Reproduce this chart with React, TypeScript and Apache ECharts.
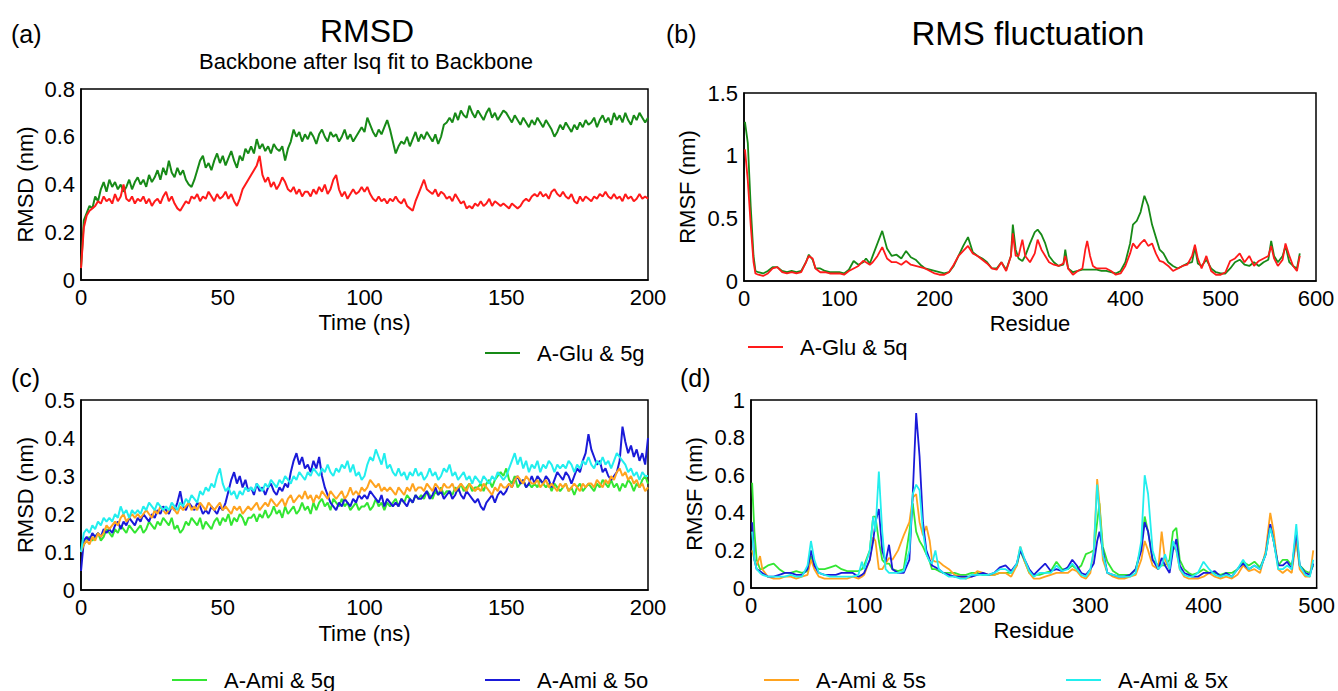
import React, { useEffect, useRef } from "react";
import * as echarts from "echarts";

// ---------- DATA ----------
// RMSD sampled every 1 ns, 0..200 ns
const TIME_NS: number[] = Array.from({ length: 201 }, (_, i) => i);

const rmsdGlu5g: number[] = [
  0.05,0.25,0.28,0.31,0.3,0.35,0.33,0.38,0.41,0.37,
  0.42,0.39,0.41,0.38,0.4,0.37,0.39,0.42,0.38,0.41,
  0.43,0.4,0.42,0.39,0.44,0.41,0.43,0.46,0.42,0.47,
  0.44,0.5,0.45,0.43,0.47,0.44,0.46,0.42,0.4,0.39,
  0.42,0.46,0.5,0.52,0.47,0.49,0.46,0.5,0.53,0.49,
  0.52,0.48,0.51,0.54,0.5,0.47,0.52,0.5,0.55,0.53,
  0.56,0.53,0.59,0.55,0.57,0.54,0.56,0.53,0.57,0.55,
  0.54,0.56,0.5,0.55,0.58,0.63,0.6,0.62,0.58,0.61,
  0.59,0.62,0.6,0.57,0.61,0.63,0.6,0.58,0.62,0.6,
  0.61,0.58,0.6,0.63,0.59,0.61,0.58,0.6,0.62,0.64,
  0.62,0.68,0.65,0.62,0.6,0.63,0.61,0.64,0.67,0.63,
  0.58,0.53,0.56,0.58,0.57,0.6,0.56,0.59,0.62,0.58,
  0.61,0.59,0.62,0.6,0.58,0.61,0.57,0.6,0.65,0.66,
  0.68,0.66,0.7,0.67,0.71,0.69,0.68,0.73,0.7,0.68,
  0.71,0.69,0.67,0.7,0.72,0.68,0.7,0.67,0.69,0.71,
  0.7,0.68,0.66,0.69,0.67,0.65,0.68,0.66,0.64,0.67,
  0.65,0.68,0.66,0.64,0.67,0.65,0.63,0.6,0.62,0.65,
  0.63,0.66,0.64,0.62,0.65,0.63,0.66,0.64,0.67,0.65,
  0.66,0.68,0.64,0.67,0.69,0.66,0.68,0.65,0.7,0.67,
  0.69,0.66,0.7,0.67,0.65,0.69,0.67,0.7,0.68,0.66,
  0.68,
];

const rmsdGlu5q: number[] = [
  0.05,0.22,0.27,0.29,0.3,0.31,0.33,0.32,0.35,0.33,
  0.34,0.32,0.36,0.33,0.35,0.4,0.34,0.33,0.35,0.32,
  0.34,0.33,0.35,0.32,0.34,0.31,0.33,0.34,0.32,0.35,
  0.37,0.33,0.35,0.32,0.3,0.29,0.31,0.33,0.32,0.35,
  0.34,0.36,0.33,0.35,0.34,0.37,0.35,0.33,0.36,0.34,
  0.35,0.37,0.34,0.36,0.33,0.31,0.34,0.38,0.4,0.42,
  0.44,0.46,0.48,0.52,0.44,0.41,0.43,0.39,0.41,0.38,
  0.4,0.43,0.41,0.38,0.37,0.39,0.36,0.38,0.35,0.37,
  0.37,0.35,0.38,0.36,0.39,0.37,0.4,0.36,0.38,0.42,
  0.44,0.38,0.35,0.37,0.34,0.36,0.38,0.36,0.37,0.39,
  0.37,0.39,0.36,0.34,0.33,0.35,0.33,0.34,0.32,0.34,
  0.33,0.35,0.33,0.32,0.34,0.31,0.3,0.29,0.33,0.36,
  0.39,0.42,0.38,0.37,0.36,0.38,0.35,0.37,0.36,0.34,
  0.35,0.33,0.36,0.34,0.32,0.33,0.3,0.31,0.3,0.32,
  0.31,0.33,0.31,0.32,0.34,0.31,0.33,0.32,0.31,0.32,
  0.31,0.3,0.32,0.31,0.3,0.31,0.33,0.34,0.33,0.35,
  0.36,0.35,0.37,0.35,0.36,0.34,0.37,0.38,0.36,0.35,
  0.37,0.35,0.34,0.36,0.33,0.32,0.35,0.33,0.35,0.34,
  0.33,0.35,0.34,0.36,0.35,0.37,0.35,0.34,0.36,0.34,
  0.35,0.33,0.36,0.34,0.35,0.33,0.34,0.36,0.34,0.35,
  0.34,
];

const rmsdAmi5g: number[] = [
  0.1,0.12,0.13,0.14,0.13,0.14,0.15,0.13,0.14,0.16,
  0.15,0.14,0.16,0.15,0.17,0.16,0.15,0.17,0.16,0.15,
  0.16,0.17,0.15,0.16,0.18,0.17,0.16,0.18,0.17,0.19,
  0.18,0.17,0.19,0.16,0.17,0.15,0.16,0.18,0.17,0.19,
  0.18,0.17,0.19,0.16,0.18,0.17,0.16,0.18,0.19,0.17,
  0.19,0.18,0.2,0.17,0.19,0.18,0.2,0.19,0.17,0.19,
  0.19,0.2,0.18,0.2,0.19,0.21,0.19,0.2,0.22,0.2,
  0.21,0.19,0.22,0.2,0.21,0.22,0.2,0.21,0.23,0.21,
  0.22,0.2,0.23,0.21,0.23,0.24,0.22,0.23,0.21,0.24,
  0.23,0.22,0.24,0.22,0.23,0.21,0.22,0.23,0.21,0.22,
  0.22,0.23,0.21,0.22,0.24,0.22,0.23,0.21,0.23,0.22,
  0.23,0.24,0.22,0.24,0.23,0.25,0.24,0.23,0.25,0.24,
  0.25,0.24,0.26,0.25,0.24,0.26,0.25,0.27,0.25,0.26,
  0.26,0.25,0.27,0.26,0.28,0.26,0.27,0.28,0.26,0.27,
  0.27,0.28,0.26,0.28,0.29,0.27,0.29,0.3,0.31,0.3,
  0.32,0.29,0.28,0.3,0.27,0.28,0.29,0.27,0.28,0.27,
  0.28,0.27,0.29,0.28,0.27,0.28,0.26,0.28,0.27,0.26,
  0.27,0.28,0.26,0.27,0.25,0.27,0.28,0.26,0.27,0.28,
  0.27,0.26,0.28,0.27,0.29,0.28,0.27,0.29,0.27,0.28,
  0.26,0.28,0.27,0.29,0.28,0.26,0.28,0.27,0.29,0.3,
  0.28,
];

const rmsdAmi5o: number[] = [
  0.05,0.13,0.14,0.13,0.15,0.14,0.15,0.14,0.16,0.15,
  0.16,0.15,0.17,0.18,0.16,0.18,0.17,0.19,0.18,0.17,
  0.19,0.18,0.2,0.19,0.18,0.2,0.19,0.21,0.2,0.22,
  0.21,0.2,0.22,0.21,0.23,0.26,0.22,0.21,0.23,0.22,
  0.21,0.23,0.22,0.2,0.21,0.2,0.22,0.21,0.2,0.22,
  0.21,0.23,0.26,0.29,0.31,0.28,0.3,0.27,0.29,0.26,
  0.27,0.25,0.28,0.26,0.27,0.25,0.27,0.28,0.26,0.25,
  0.27,0.26,0.28,0.27,0.31,0.34,0.36,0.33,0.35,0.32,
  0.33,0.31,0.34,0.32,0.35,0.3,0.27,0.25,0.23,0.22,
  0.21,0.23,0.22,0.24,0.23,0.22,0.24,0.23,0.25,0.24,
  0.25,0.24,0.26,0.25,0.24,0.23,0.25,0.22,0.24,0.23,
  0.22,0.23,0.22,0.24,0.23,0.22,0.24,0.23,0.25,0.24,
  0.24,0.25,0.26,0.24,0.25,0.27,0.25,0.26,0.24,0.25,
  0.26,0.24,0.25,0.27,0.25,0.24,0.26,0.25,0.24,0.23,
  0.24,0.22,0.21,0.23,0.24,0.25,0.23,0.25,0.26,0.25,
  0.26,0.28,0.27,0.29,0.3,0.28,0.29,0.27,0.28,0.3,
  0.28,0.3,0.29,0.28,0.3,0.29,0.27,0.29,0.31,0.3,
  0.29,0.31,0.3,0.28,0.3,0.32,0.31,0.34,0.36,0.41,
  0.37,0.35,0.33,0.34,0.31,0.32,0.3,0.29,0.3,0.31,
  0.34,0.43,0.39,0.36,0.38,0.35,0.37,0.34,0.36,0.33,
  0.4,
];

const rmsdAmi5s: number[] = [
  0.1,0.12,0.13,0.12,0.14,0.13,0.15,0.14,0.15,0.17,
  0.16,0.17,0.18,0.17,0.19,0.2,0.18,0.19,0.2,0.19,
  0.2,0.19,0.2,0.21,0.2,0.19,0.21,0.2,0.22,0.21,
  0.2,0.21,0.22,0.21,0.2,0.22,0.21,0.22,0.23,0.21,
  0.22,0.21,0.23,0.22,0.21,0.23,0.22,0.21,0.22,0.23,
  0.21,0.22,0.21,0.2,0.22,0.21,0.22,0.2,0.21,0.22,
  0.21,0.22,0.23,0.21,0.22,0.23,0.22,0.24,0.23,0.22,
  0.23,0.24,0.22,0.24,0.25,0.23,0.24,0.25,0.24,0.26,
  0.24,0.25,0.23,0.25,0.24,0.26,0.25,0.24,0.26,0.25,
  0.24,0.25,0.26,0.24,0.25,0.27,0.25,0.26,0.25,0.27,
  0.26,0.27,0.29,0.28,0.27,0.28,0.26,0.27,0.26,0.27,
  0.26,0.25,0.27,0.26,0.25,0.27,0.26,0.28,0.26,0.27,
  0.27,0.26,0.28,0.27,0.26,0.28,0.27,0.26,0.28,0.27,
  0.27,0.28,0.26,0.27,0.28,0.27,0.26,0.28,0.27,0.26,
  0.27,0.26,0.28,0.27,0.26,0.25,0.27,0.26,0.28,0.27,
  0.27,0.28,0.27,0.29,0.3,0.29,0.28,0.3,0.29,0.28,
  0.28,0.29,0.27,0.28,0.29,0.27,0.28,0.27,0.26,0.28,
  0.27,0.28,0.26,0.27,0.28,0.27,0.26,0.28,0.27,0.28,
  0.28,0.27,0.29,0.28,0.27,0.29,0.28,0.3,0.29,0.31,
  0.32,0.3,0.31,0.29,0.3,0.28,0.29,0.27,0.28,0.26,
  0.27,
];

const rmsdAmi5x: number[] = [
  0.1,0.15,0.16,0.15,0.17,0.16,0.18,0.17,0.19,0.18,
  0.19,0.18,0.2,0.19,0.22,0.2,0.21,0.19,0.21,0.2,
  0.21,0.2,0.22,0.21,0.23,0.22,0.21,0.23,0.22,0.21,
  0.22,0.21,0.23,0.22,0.21,0.23,0.22,0.24,0.23,0.25,
  0.24,0.23,0.26,0.25,0.27,0.26,0.28,0.27,0.3,0.32,
  0.28,0.26,0.27,0.25,0.26,0.24,0.26,0.25,0.27,0.26,
  0.27,0.26,0.28,0.27,0.26,0.28,0.27,0.29,0.28,0.27,
  0.29,0.28,0.3,0.29,0.28,0.3,0.29,0.31,0.3,0.29,
  0.31,0.3,0.32,0.31,0.3,0.32,0.31,0.33,0.31,0.3,
  0.32,0.31,0.33,0.32,0.34,0.31,0.33,0.3,0.31,0.29,
  0.3,0.33,0.35,0.34,0.37,0.35,0.33,0.36,0.32,0.33,
  0.31,0.3,0.32,0.3,0.31,0.29,0.31,0.3,0.32,0.3,
  0.31,0.29,0.3,0.32,0.3,0.31,0.29,0.3,0.32,0.31,
  0.33,0.3,0.31,0.29,0.3,0.31,0.29,0.3,0.28,0.3,
  0.29,0.28,0.3,0.29,0.28,0.3,0.29,0.31,0.3,0.29,
  0.3,0.32,0.34,0.36,0.33,0.35,0.32,0.34,0.31,0.33,
  0.32,0.34,0.31,0.33,0.32,0.34,0.33,0.31,0.33,0.32,
  0.33,0.32,0.34,0.33,0.31,0.33,0.32,0.34,0.33,0.35,
  0.33,0.32,0.34,0.33,0.35,0.33,0.34,0.32,0.34,0.36,
  0.35,0.34,0.33,0.31,0.32,0.3,0.31,0.29,0.31,0.3,
  0.3,
];

// RMSF (b): residues and values
const RES_B: number[] = [
  1,4,7,10,12,15,20,25,30,35,
  40,45,50,55,60,65,68,72,75,80,
  85,90,95,100,105,110,115,120,125,128,
  132,135,140,145,150,155,160,165,170,175,
  180,185,190,195,200,205,210,215,220,225,
  230,235,240,245,250,255,260,265,270,275,
  280,282,285,288,292,295,300,305,308,312,
  316,320,325,330,335,337,340,345,350,355,
  358,360,363,366,370,375,380,385,390,395,
  400,405,408,412,416,420,424,428,432,436,
  440,445,450,455,460,465,470,473,476,480,
  485,490,495,500,505,510,515,520,525,530,
  535,540,545,550,553,556,560,565,568,572,
  576,580,583,
];
const rmsfGlu5g: number[] = [
  1.27,1.1,0.6,0.2,0.08,0.07,0.06,0.08,0.11,0.11,
  0.08,0.07,0.08,0.07,0.08,0.15,0.21,0.17,0.1,0.1,
  0.08,0.07,0.07,0.07,0.06,0.09,0.16,0.13,0.15,0.18,
  0.14,0.2,0.3,0.4,0.26,0.2,0.21,0.18,0.24,0.19,
  0.17,0.13,0.1,0.09,0.08,0.07,0.06,0.07,0.12,0.2,
  0.28,0.35,0.23,0.2,0.18,0.15,0.1,0.1,0.15,0.09,
  0.2,0.45,0.25,0.18,0.16,0.2,0.3,0.39,0.41,0.37,
  0.3,0.2,0.15,0.12,0.13,0.25,0.1,0.07,0.08,0.09,
  0.09,0.09,0.09,0.09,0.09,0.08,0.08,0.07,0.06,0.08,
  0.15,0.3,0.45,0.48,0.55,0.68,0.6,0.45,0.35,0.25,
  0.22,0.15,0.12,0.1,0.12,0.14,0.15,0.27,0.14,0.12,
  0.17,0.1,0.07,0.06,0.06,0.1,0.15,0.17,0.13,0.12,
  0.15,0.12,0.15,0.17,0.32,0.2,0.15,0.2,0.28,0.15,
  0.12,0.1,0.22,
];
const rmsfGlu5q: number[] = [
  1.05,0.8,0.45,0.15,0.06,0.05,0.04,0.06,0.1,0.11,
  0.07,0.06,0.07,0.06,0.07,0.15,0.2,0.18,0.1,0.07,
  0.07,0.06,0.06,0.06,0.05,0.08,0.1,0.12,0.16,0.15,
  0.13,0.15,0.2,0.27,0.18,0.15,0.15,0.13,0.16,0.13,
  0.12,0.11,0.1,0.08,0.06,0.05,0.05,0.07,0.13,0.2,
  0.24,0.28,0.22,0.2,0.17,0.14,0.1,0.09,0.15,0.08,
  0.2,0.38,0.2,0.2,0.33,0.2,0.15,0.22,0.33,0.25,
  0.2,0.15,0.13,0.12,0.14,0.2,0.1,0.05,0.08,0.1,
  0.25,0.32,0.2,0.12,0.1,0.1,0.1,0.08,0.05,0.06,
  0.12,0.22,0.3,0.26,0.3,0.33,0.28,0.3,0.22,0.16,
  0.15,0.12,0.08,0.1,0.12,0.13,0.2,0.29,0.18,0.1,
  0.2,0.08,0.05,0.05,0.07,0.16,0.18,0.22,0.15,0.2,
  0.12,0.16,0.18,0.2,0.28,0.18,0.12,0.17,0.3,0.2,
  0.12,0.08,0.2,
];

// RMSF (d): residues and values
const RES_D: number[] = [
  1,3,5,8,10,15,20,25,30,35,
  40,45,50,53,56,60,65,70,75,80,
  85,90,95,98,100,105,108,110,113,116,
  119,122,125,130,135,140,143,146,149,152,
  155,158,160,163,166,170,175,180,185,190,
  195,200,205,210,215,220,225,230,235,238,
  242,246,250,255,260,265,270,275,280,284,
  288,292,296,300,303,306,308,311,315,320,
  325,330,335,340,345,348,351,355,360,363,
  366,370,373,376,379,383,387,390,395,400,
  405,410,415,420,425,430,435,440,445,450,
  455,459,462,466,470,474,478,482,485,490,
  494,497,
];
const rmsfAmi5g: number[] = [
  0.56,0.3,0.15,0.1,0.1,0.12,0.13,0.1,0.08,0.08,
  0.09,0.08,0.09,0.17,0.12,0.1,0.1,0.11,0.12,0.1,
  0.09,0.09,0.09,0.1,0.12,0.2,0.38,0.38,0.25,0.15,
  0.13,0.13,0.1,0.09,0.1,0.3,0.45,0.3,0.25,0.22,
  0.18,0.14,0.1,0.1,0.09,0.08,0.08,0.08,0.07,0.07,
  0.08,0.08,0.07,0.07,0.07,0.08,0.08,0.08,0.12,0.2,
  0.14,0.08,0.07,0.07,0.08,0.09,0.14,0.1,0.1,0.12,
  0.1,0.12,0.18,0.19,0.2,0.35,0.45,0.22,0.14,0.09,
  0.07,0.07,0.07,0.1,0.22,0.38,0.3,0.15,0.12,0.12,
  0.12,0.15,0.3,0.32,0.15,0.1,0.08,0.07,0.08,0.1,
  0.08,0.08,0.07,0.08,0.08,0.1,0.14,0.12,0.14,0.11,
  0.18,0.33,0.25,0.12,0.15,0.15,0.12,0.25,0.12,0.09,
  0.08,0.12,
];
const rmsfAmi5o: number[] = [
  0.35,0.15,0.1,0.09,0.08,0.06,0.06,0.07,0.08,0.08,
  0.07,0.07,0.1,0.2,0.12,0.08,0.07,0.07,0.07,0.08,
  0.08,0.08,0.06,0.07,0.08,0.15,0.25,0.35,0.42,0.2,
  0.14,0.23,0.1,0.08,0.08,0.15,0.5,0.93,0.7,0.35,
  0.2,0.15,0.12,0.11,0.1,0.08,0.07,0.06,0.06,0.06,
  0.06,0.07,0.08,0.07,0.08,0.11,0.12,0.09,0.13,0.2,
  0.15,0.1,0.07,0.1,0.13,0.09,0.1,0.09,0.11,0.15,
  0.12,0.08,0.07,0.1,0.13,0.25,0.3,0.2,0.08,0.07,
  0.06,0.06,0.07,0.1,0.2,0.35,0.3,0.15,0.1,0.16,
  0.12,0.08,0.2,0.26,0.12,0.08,0.07,0.06,0.06,0.08,
  0.08,0.09,0.06,0.08,0.06,0.1,0.13,0.1,0.12,0.1,
  0.18,0.34,0.25,0.12,0.12,0.14,0.1,0.3,0.12,0.08,
  0.07,0.13,
];
const rmsfAmi5s: number[] = [
  0.2,0.15,0.12,0.17,0.1,0.06,0.05,0.05,0.06,0.06,
  0.05,0.06,0.07,0.15,0.1,0.06,0.05,0.05,0.05,0.05,
  0.05,0.06,0.05,0.06,0.07,0.15,0.27,0.25,0.1,0.1,
  0.13,0.16,0.15,0.2,0.28,0.35,0.48,0.5,0.35,0.28,
  0.33,0.25,0.15,0.14,0.14,0.12,0.1,0.07,0.06,0.05,
  0.06,0.09,0.08,0.07,0.07,0.08,0.08,0.06,0.12,0.22,
  0.14,0.08,0.05,0.05,0.06,0.07,0.08,0.08,0.08,0.1,
  0.09,0.06,0.05,0.08,0.2,0.58,0.45,0.15,0.08,0.06,
  0.05,0.05,0.06,0.07,0.15,0.25,0.2,0.12,0.1,0.3,
  0.15,0.1,0.22,0.2,0.1,0.06,0.05,0.05,0.05,0.06,
  0.08,0.06,0.05,0.06,0.05,0.07,0.12,0.09,0.1,0.08,
  0.2,0.4,0.3,0.1,0.08,0.1,0.08,0.26,0.1,0.06,
  0.06,0.2,
];
const rmsfAmi5x: number[] = [
  0.3,0.15,0.1,0.08,0.07,0.06,0.06,0.06,0.06,0.07,
  0.06,0.06,0.12,0.25,0.15,0.08,0.07,0.06,0.06,0.06,
  0.06,0.06,0.07,0.14,0.1,0.2,0.38,0.3,0.62,0.3,
  0.1,0.08,0.08,0.08,0.09,0.2,0.5,0.55,0.52,0.3,
  0.18,0.14,0.13,0.2,0.1,0.08,0.06,0.06,0.05,0.05,
  0.07,0.07,0.07,0.07,0.08,0.1,0.1,0.08,0.13,0.22,
  0.15,0.09,0.06,0.08,0.08,0.08,0.12,0.09,0.1,0.13,
  0.1,0.07,0.06,0.1,0.2,0.55,0.4,0.18,0.08,0.07,
  0.06,0.06,0.06,0.08,0.25,0.6,0.5,0.2,0.1,0.12,
  0.18,0.1,0.25,0.2,0.1,0.07,0.06,0.06,0.08,0.14,
  0.1,0.07,0.06,0.07,0.06,0.1,0.15,0.1,0.12,0.1,
  0.18,0.32,0.25,0.1,0.1,0.12,0.1,0.34,0.12,0.07,
  0.06,0.15,
];

const NAME_G5G = "A-Glu & 5g";
const NAME_G5Q = "A-Glu & 5q";
const NAME_A5G = "A-Ami & 5g";
const NAME_A5O = "A-Ami & 5o";
const NAME_A5S = "A-Ami & 5s";
const NAME_A5X = "A-Ami & 5x";

// ---------- STYLE ----------
const FONT = "'Liberation Sans', Arial, Helvetica, sans-serif";
const FS = 22;
const C_G5G = "#178a17";
const C_G5Q = "#ff1a1a";
const C_A5G = "#33e633";
const C_A5O = "#1a1ad9";
const C_A5S = "#ffa31f";
const C_A5X = "#22eeee";

function pairs(xs: number[], ys: number[]) {
  const out: number[][] = [];
  for (let i = 0; i < ys.length && i < xs.length; i++) out.push([xs[i], ys[i]]);
  return out;
}

function xAxisCfg(grid: number, max: number, interval: number, name: string, gap: number) {
  return {
    type: "value",
    gridIndex: grid,
    min: 0,
    max,
    interval,
    name,
    nameLocation: "middle",
    nameGap: gap,
    nameTextStyle: { fontSize: FS, color: "#000", fontFamily: FONT },
    axisLine: { show: true, onZero: false, lineStyle: { color: "#000", width: 1.5 } },
    axisTick: { show: false },
    splitLine: { show: false },
    axisLabel: { fontSize: FS, color: "#000", fontFamily: FONT, margin: 6, showMinLabel: true, showMaxLabel: true },
  };
}

function yAxisCfg(grid: number, max: number, interval: number, name: string, gap: number) {
  return {
    type: "value",
    gridIndex: grid,
    min: 0,
    max,
    interval,
    name,
    nameLocation: "middle",
    nameGap: gap,
    nameRotate: 90,
    nameTextStyle: { fontSize: FS, color: "#000", fontFamily: FONT },
    axisLine: { show: true, onZero: false, lineStyle: { color: "#000", width: 1.5 } },
    axisTick: { show: false },
    splitLine: { show: false },
    axisLabel: { fontSize: FS, color: "#000", fontFamily: FONT, margin: 6, showMinLabel: true, showMaxLabel: true },
  };
}

function lineSeries(name: string, color: string, grid: number, data: number[][], width: number) {
  return {
    type: "line",
    name,
    xAxisIndex: grid,
    yAxisIndex: grid,
    data,
    showSymbol: false,
    symbol: "none",
    lineStyle: { color, width },
    itemStyle: { color },
    emphasis: { disabled: true },
  };
}

function legendCfg(name: string, left: number, top: number) {
  return {
    data: [name],
    left,
    top,
    padding: 0,
    icon: "rect",
    itemWidth: 35,
    itemHeight: 2,
    selectedMode: false,
    textStyle: { fontSize: FS, color: "#000", fontFamily: FONT, padding: [0, 0, 0, 12], lineHeight: 22 },
  };
}

function txt(text: string, x: number, y: number, size: number, align: string = "left") {
  return {
    type: "text",
    x,
    y,
    style: { text, fontSize: size, fontFamily: FONT, fill: "#000", textAlign: align, textVerticalAlign: "middle" },
  };
}

export default function App() {
  const ref = useRef<HTMLDivElement | null>(null);

  useEffect(() => {
    document.body.style.margin = "0";
    if (!ref.current) return;
    const chart = echarts.init(ref.current, null, { renderer: "svg" });
    const gridBase = { show: true, borderColor: "#000", borderWidth: 1.5, backgroundColor: "transparent" };
    chart.setOption({
      animation: false,
      backgroundColor: "#fff",
      textStyle: { fontFamily: FONT },
      grid: [
        { ...gridBase, left: 81, top: 89, width: 567, height: 191 },
        { ...gridBase, left: 744, top: 93, width: 572, height: 188 },
        { ...gridBase, left: 81, top: 400, width: 567, height: 190 },
        { ...gridBase, left: 751, top: 400, width: 566, height: 188 },
      ],
      xAxis: [
        xAxisCfg(0, 200, 50, "Time (ns)", 31),
        xAxisCfg(1, 600, 100, "Residue", 31),
        xAxisCfg(2, 200, 50, "Time (ns)", 32),
        xAxisCfg(3, 500, 100, "Residue", 31),
      ],
      yAxis: [
        yAxisCfg(0, 0.8, 0.2, "RMSD (nm)", 45),
        yAxisCfg(1, 1.5, 0.5, "RMSF (nm)", 46),
        yAxisCfg(2, 0.5, 0.1, "RMSD (nm)", 45),
        yAxisCfg(3, 1, 0.2, "RMSF (nm)", 46),
      ],
      legend: [
        legendCfg(NAME_G5G, 485, 342),
        legendCfg(NAME_G5Q, 748, 336),
        legendCfg(NAME_A5G, 172, 669),
        legendCfg(NAME_A5O, 485, 669),
        legendCfg(NAME_A5S, 764, 669),
        legendCfg(NAME_A5X, 1066, 669),
      ],
      graphic: [
        txt("(a)", 11, 34, 25),
        txt("RMSD", 367, 31, 32, "center"),
        txt("Backbone after lsq fit to Backbone", 366, 61, FS, "center"),
        txt("(b)", 666, 34, 25),
        txt("RMS fluctuation", 1028, 33, 33, "center"),
        txt("(c)", 11, 378, 25),
        txt("(d)", 680, 378, 25),
      ],
      series: [
        lineSeries(NAME_G5G, C_G5G, 0, pairs(TIME_NS, rmsdGlu5g), 2),
        lineSeries(NAME_G5Q, C_G5Q, 0, pairs(TIME_NS, rmsdGlu5q), 2),
        lineSeries(NAME_G5G, C_G5G, 1, pairs(RES_B, rmsfGlu5g), 1.8),
        lineSeries(NAME_G5Q, C_G5Q, 1, pairs(RES_B, rmsfGlu5q), 1.8),
        lineSeries(NAME_A5G, C_A5G, 2, pairs(TIME_NS, rmsdAmi5g), 2),
        lineSeries(NAME_A5O, C_A5O, 2, pairs(TIME_NS, rmsdAmi5o), 2),
        lineSeries(NAME_A5S, C_A5S, 2, pairs(TIME_NS, rmsdAmi5s), 2),
        lineSeries(NAME_A5X, C_A5X, 2, pairs(TIME_NS, rmsdAmi5x), 2),
        lineSeries(NAME_A5G, C_A5G, 3, pairs(RES_D, rmsfAmi5g), 1.8),
        lineSeries(NAME_A5S, C_A5S, 3, pairs(RES_D, rmsfAmi5s), 1.8),
        lineSeries(NAME_A5O, C_A5O, 3, pairs(RES_D, rmsfAmi5o), 1.8),
        lineSeries(NAME_A5X, C_A5X, 3, pairs(RES_D, rmsfAmi5x), 1.8),
      ],
    });
    return () => chart.dispose();
  }, []);

  return <div ref={ref} style={{ width: 1338, height: 691 }} />;
}
